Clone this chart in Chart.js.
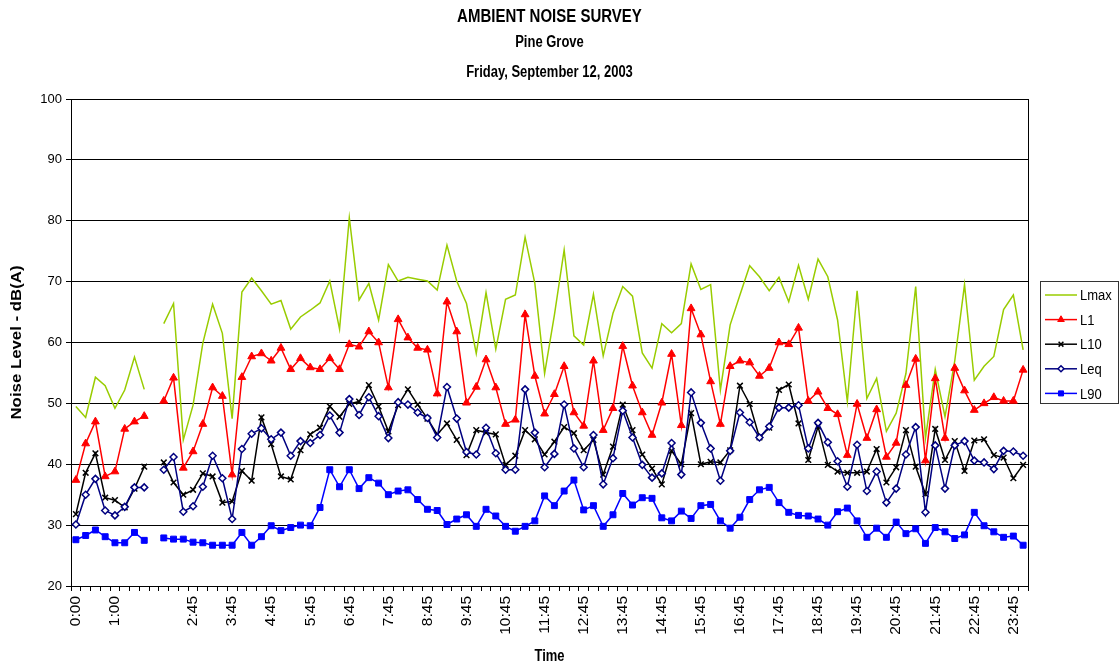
<!DOCTYPE html>
<html>
<head>
<meta charset="utf-8">
<title>Ambient Noise Survey</title>
<script src="https://cdn.jsdelivr.net/npm/chart.js@4.4.1/dist/chart.umd.min.js"></script>
<style>
  html, body { margin: 0; padding: 0; background: #fff; }
  #wrap { width: 1120px; height: 666px; }
</style>
</head>
<body>
<div id="wrap"><canvas id="noiseChart" width="1120" height="666"></canvas></div>
<script>
// 15-minute survey intervals (one empty slot where the meter was down)
const times = [
  '0:00', '0:15', '0:30', '0:45', '1:00', '1:15', '1:30', '1:45', '',
  '2:00', '2:15', '2:30', '2:45', '3:00', '3:15', '3:30', '3:45',
  '4:00', '4:15', '4:30', '4:45', '5:00', '5:15', '5:30', '5:45',
  '6:00', '6:15', '6:30', '6:45', '7:00', '7:15', '7:30', '7:45',
  '8:00', '8:15', '8:30', '8:45', '9:00', '9:15', '9:30', '9:45',
  '10:00', '10:15', '10:30', '10:45', '11:00', '11:15', '11:30', '11:45',
  '12:00', '12:15', '12:30', '12:45', '13:00', '13:15', '13:30', '13:45',
  '14:00', '14:15', '14:30', '14:45', '15:00', '15:15', '15:30', '15:45',
  '16:00', '16:15', '16:30', '16:45', '17:00', '17:15', '17:30', '17:45',
  '18:00', '18:15', '18:30', '18:45', '19:00', '19:15', '19:30', '19:45',
  '20:00', '20:15', '20:30', '20:45', '21:00', '21:15', '21:30', '21:45',
  '22:00', '22:15', '22:30', '22:45', '23:00', '23:15', '23:30', '23:45',
  '0:00'
];

const lmax = [
  49.5, 47.7, 54.3, 52.9, 49.2, 52.2, 57.6, 52.3, null, 63.1, 66.4, 44.0,
  49.7, 59.9, 66.3, 61.5, 47.5, 68.3, 70.6, 68.5, 66.3, 66.9, 62.2, 64.2,
  65.3, 66.5, 70.1, 62.2, 80.5, 67.0, 69.7, 63.7, 72.8, 70.1, 70.7, 70.4,
  70.1, 68.6, 76.0, 70.1, 66.4, 58.2, 68.2, 58.9, 67.1, 67.8, 77.3, 69.7,
  54.9, 64.5, 75.2, 61.1, 59.6, 67.9, 57.8, 64.8, 69.2, 67.6, 58.3, 55.8,
  63.1, 61.6, 63.1, 72.9, 68.7, 69.5, 52.2, 62.9, 67.8, 72.6, 70.8, 68.5,
  70.7, 66.7, 72.7, 67.1, 73.7, 70.8, 63.7, 50.3, 68.5, 50.8, 54.1, 45.4,
  48.4, 54.9, 69.2, 44.3, 55.6, 47.8, 57.0, 69.5, 53.8, 56.1, 57.7, 65.4,
  67.8, 58.8
];

const l1 = [
  37.4, 43.4, 47.0, 38.0, 38.8, 45.8, 47.0, 47.9, null, 50.4, 54.2, 39.4,
  42.1, 46.6, 52.6, 51.2, 38.3, 54.3, 57.7, 58.2, 57.0, 59.1, 55.6, 57.4,
  55.9, 55.6, 57.4, 55.6, 59.7, 59.3, 61.8, 60.0, 52.6, 63.8, 60.8, 59.1,
  58.8, 51.6, 66.7, 61.8, 50.1, 52.7, 57.2, 52.6, 46.6, 47.3, 64.6, 54.5,
  48.3, 51.5, 56.1, 48.5, 46.3, 57.0, 45.6, 49.2, 59.4, 52.9, 48.5, 44.8,
  50.1, 58.1, 46.4, 65.6, 61.3, 53.6, 46.6, 56.1, 57.0, 56.7, 54.5, 55.8,
  60.0, 59.7, 62.4, 50.4, 51.9, 49.2, 48.2, 41.5, 49.9, 44.3, 49.0, 41.2,
  43.5, 53.0, 57.3, 40.6, 54.1, 44.3, 55.8, 52.1, 48.9, 50.0, 51.0, 50.4,
  50.4, 55.5
];

const l10 = [
  31.8, 38.6, 41.8, 34.5, 34.1, 32.9, 36.0, 39.6, null, 40.3, 37.0, 35.0,
  35.8, 38.5, 38.0, 33.7, 33.9, 38.9, 37.3, 47.7, 43.3, 38.0, 37.5, 42.3,
  44.9, 46.0, 49.5, 47.8, 49.9, 50.3, 53.0, 49.5, 45.4, 49.7, 52.3, 49.8,
  47.5, 44.9, 46.7, 44.0, 41.5, 45.6, 45.2, 44.9, 39.9, 41.4, 45.6, 44.1,
  41.6, 43.7, 46.1, 45.1, 42.3, 44.0, 38.3, 42.9, 49.8, 45.6, 41.6, 39.3,
  36.7, 42.2, 40.0, 48.4, 40.0, 40.4, 40.3, 42.3, 52.9, 49.9, 44.4, 46.0,
  52.2, 53.1, 46.7, 40.7, 46.2, 39.9, 38.8, 38.6, 38.6, 38.8, 42.5, 37.0,
  39.5, 45.6, 39.6, 35.1, 45.8, 40.7, 43.8, 38.9, 43.9, 44.1, 41.5, 41.1,
  37.7, 39.9
];

const leq = [
  30.1, 35.0, 37.6, 32.4, 31.6, 33.0, 36.2, 36.2, null, 39.1, 41.2, 32.2,
  33.1, 36.3, 41.4, 37.7, 31.0, 42.5, 45.0, 45.9, 44.1, 45.2, 41.4, 43.8,
  43.5, 44.8, 48.0, 45.2, 50.7, 48.1, 51.0, 47.9, 44.3, 50.2, 49.8, 48.5,
  47.6, 44.4, 52.7, 47.5, 42.0, 41.6, 46.0, 41.8, 39.1, 39.1, 52.3, 45.2,
  39.5, 41.7, 49.8, 42.6, 39.5, 44.8, 36.7, 41.0, 48.8, 44.4, 39.9, 37.8,
  38.5, 43.5, 38.3, 51.8, 46.8, 42.6, 37.3, 42.2, 48.5, 46.9, 44.4, 46.2,
  49.3, 49.3, 49.7, 42.6, 46.8, 43.6, 40.5, 36.3, 43.2, 35.6, 38.8, 33.7,
  36.0, 41.6, 46.1, 32.1, 43.1, 36.0, 43.1, 43.8, 40.6, 40.3, 39.2, 42.2,
  42.1, 41.4
];

const l90 = [
  27.6, 28.3, 29.2, 28.1, 27.1, 27.1, 28.8, 27.5, null, 27.9, 27.7, 27.7,
  27.2, 27.1, 26.7, 26.7, 26.7, 28.8, 26.7, 28.1, 29.9, 29.1, 29.6, 30.0,
  29.9, 32.9, 39.1, 36.3, 39.1, 36.0, 37.8, 36.9, 35.0, 35.6, 35.8, 34.2,
  32.6, 32.4, 30.1, 31.0, 31.7, 29.8, 32.6, 31.5, 29.8, 29.0, 29.8, 30.7,
  34.8, 33.2, 35.6, 37.4, 32.5, 33.2, 29.8, 31.7, 35.2, 33.3, 34.5, 34.4,
  31.2, 30.7, 32.3, 31.1, 33.2, 33.4, 30.7, 29.5, 31.3, 34.2, 35.8, 36.2,
  33.7, 32.1, 31.6, 31.5, 31.0, 30.0, 32.2, 32.8, 30.7, 28.0, 29.5, 28.0,
  30.5, 28.6, 29.4, 27.0, 29.6, 28.9, 27.8, 28.4, 32.1, 29.9, 28.9, 28.0,
  28.2, 26.7
];

const yTicks = [20, 30, 40, 50, 60, 70, 80, 90, 100];

const FONT = "'Liberation Sans', Arial, sans-serif";
Chart.defaults.font.family = FONT;
Chart.defaults.color = '#000';

// the original export is a bit taller than wide, so text gets a vertical stretch
function tallText(ctx, text, x, y, sy) {
  ctx.save();
  ctx.translate(x, y);
  ctx.scale(1, sy);
  ctx.fillText(text, 0, 0);
  ctx.restore();
}

// titles, axis titles, plot frame and an Excel-style legend
const decorations = {
  id: 'decorations',
  afterDraw(chart) {
    const { ctx, chartArea } = chart;
    const cx = (chartArea.left + chartArea.right) / 2;
    ctx.save();
    ctx.fillStyle = '#000';
    ctx.textAlign = 'center';
    ctx.textBaseline = 'middle';
    ctx.font = 'bold 15px ' + FONT;
    tallText(ctx, 'AMBIENT NOISE SURVEY', cx, 17, 1.2);
    ctx.font = 'bold 13px ' + FONT;
    tallText(ctx, 'Pine Grove', cx, 43, 1.2);
    tallText(ctx, 'Friday, September 12, 2003', cx, 73, 1.2);
    tallText(ctx, 'Time', cx, 657, 1.2);

    ctx.save();
    ctx.translate(17, (chartArea.top + chartArea.bottom) / 2);
    ctx.rotate(-Math.PI / 2);
    ctx.scale(1.2, 1);
    ctx.font = 'bold 14px ' + FONT;
    ctx.fillText('Noise Level - dB(A)', 0, 0);
    ctx.restore();

    // right edge of the plot
    ctx.strokeStyle = '#000';
    ctx.lineWidth = 1;
    ctx.beginPath();
    ctx.moveTo(Math.round(chartArea.right) + 0.5, chartArea.top);
    ctx.lineTo(Math.round(chartArea.right) + 0.5, chartArea.bottom);
    ctx.stroke();

    // legend
    const bx = 1040.5, by = 281.5, bw = 78, bh = 122;
    ctx.strokeStyle = '#333';
    ctx.strokeRect(bx, by, bw, bh);
    ctx.textAlign = 'left';
    ctx.font = '13px ' + FONT;
    chart.data.datasets.forEach((ds, i) => {
      const y = 295 + i * 24.6;
      ctx.strokeStyle = ds.borderColor;
      ctx.lineWidth = ds.borderWidth;
      ctx.beginPath();
      ctx.moveTo(1045, y);
      ctx.lineTo(1077, y);
      ctx.stroke();
      if (ds.pointRadius > 0) {
        ctx.fillStyle = ds.pointBackgroundColor;
        ctx.strokeStyle = ds.pointBorderColor;
        ctx.lineWidth = ds.pointBorderWidth;
        Chart.helpers.drawPoint(ctx, {
          pointStyle: ds.pointStyle, radius: ds.pointRadius * 0.85,
          rotation: 0, borderWidth: ds.pointBorderWidth
        }, 1061, y);
      }
      ctx.fillStyle = '#000';
      tallText(ctx, ds.label, 1080, y + 1, 1.15);
    });
    ctx.restore();
  }
};

new Chart(document.getElementById('noiseChart'), {
  type: 'line',
  data: {
    labels: times,
    datasets: [{
      label: 'Lmax',
      data: lmax,
      borderColor: '#99CC00',
      borderWidth: 1.5,
      pointRadius: 0,
      order: 5
    }, {
      label: 'L1',
      data: l1,
      borderColor: '#FF0000',
      borderWidth: 1.5,
      pointStyle: 'triangle',
      pointRadius: 4.5,
      pointBackgroundColor: '#FF0000',
      pointBorderColor: '#FF0000',
      pointBorderWidth: 1,
      order: 4
    }, {
      label: 'L10',
      data: l10,
      borderColor: '#000000',
      borderWidth: 1.5,
      pointStyle: 'crossRot',
      pointRadius: 4,
      pointBackgroundColor: '#000000',
      pointBorderColor: '#000000',
      pointBorderWidth: 1.5,
      order: 3
    }, {
      label: 'Leq',
      data: leq,
      borderColor: '#000080',
      borderWidth: 1.5,
      pointStyle: 'rectRot',
      pointRadius: 3.5,
      pointBackgroundColor: '#FFFFFF',
      pointBorderColor: '#000080',
      pointBorderWidth: 1.5,
      order: 2
    }, {
      label: 'L90',
      data: l90,
      borderColor: '#0000FF',
      borderWidth: 1.5,
      pointStyle: 'rect',
      pointRadius: 4.2,
      pointBackgroundColor: '#0000FF',
      pointBorderColor: '#0000FF',
      pointBorderWidth: 1,
      order: 1
    }]
  },
  options: {
    responsive: false,
    animation: false,
    layout: {
      padding: { top: 99, right: 92, bottom: 0, left: 0 }
    },
    plugins: {
      legend: { display: false },
      title: { display: false },
      tooltip: { enabled: false }
    },
    elements: {
      line: { tension: 0 }
    },
    scales: {
      x: {
        type: 'category',
        offset: true,
        afterFit(scale) { scale.height = 80; },
        grid: {
          offset: true,
          drawOnChartArea: false,
          drawTicks: true,
          tickLength: 5,
          color: '#000'
        },
        border: { display: true, color: '#000', width: 1 },
        ticks: {
          autoSkip: false,
          maxRotation: 90,
          minRotation: 90,
          padding: 5,
          color: '#000',
          font: { size: 15.5 },
          callback(value, index) {
            return index % 4 === 0 ? times[index] : '';
          }
        }
      },
      y: {
        min: yTicks[0],
        max: yTicks[yTicks.length - 1],
        afterFit(scale) { scale.width = 71; },
        afterBuildTicks(scale) {
          scale.ticks = yTicks.map(v => ({ value: v }));
        },
        grid: {
          color: '#000',
          lineWidth: 1,
          tickLength: 5
        },
        border: { display: true, color: '#000', width: 1 },
        ticks: {
          padding: 4,
          color: '#000',
          font: { size: 13 }
        }
      }
    }
  },
  plugins: [decorations]
});
</script>
</body>
</html>
